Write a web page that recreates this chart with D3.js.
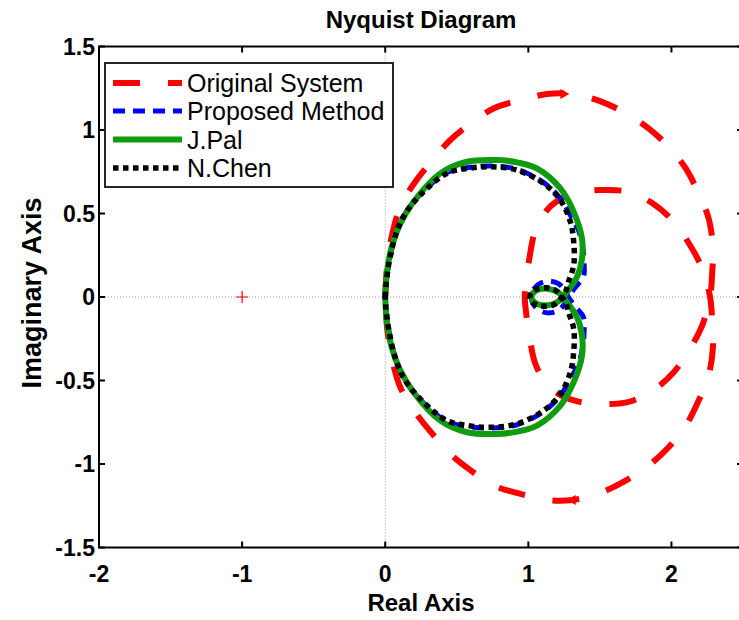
<!DOCTYPE html>
<html>
<head>
<meta charset="utf-8">
<script src="https://cdn.jsdelivr.net/npm/d3@7"></script>
<style>
  html, body { margin: 0; padding: 0; background: #fff; }
  svg { display: block; }
  text { font-family: "Liberation Sans", Arial, Helvetica, sans-serif; fill: #000; }
</style>
</head>
<body>
<svg id="chart" width="739" height="620"></svg>
<script>
// Positive-frequency branch of each Nyquist curve, from DC to high frequency.
// The negative-frequency branch is its complex conjugate.
const origRe = [0.975, 0.984, 1.005, 1.049, 1.12, 1.21, 1.345, 1.5, 1.695, 1.87, 2.016, 2.13, 2.215, 2.27,
                2.285, 2.29, 2.26, 2.19, 2.10, 1.98, 1.84, 1.68, 1.51, 1.31, 1.13, 0.95, 0.76, 0.6, 0.455, 0.33, 0.21, 0.11, 0.05, 0.015, 0];
const origIm = [0, 0.09, 0.22, 0.40, 0.51, 0.58, 0.625, 0.64, 0.63, 0.56, 0.45, 0.31, 0.17, 0,
                -0.15, -0.3, -0.47, -0.62, -0.77, -0.9, -1.01, -1.1, -1.17, -1.215, -1.215, -1.18, -1.13, -1.04, -0.94, -0.82, -0.69, -0.55, -0.38, -0.2, 0];

const propRe = [1.02, 1.04, 1.09, 1.15, 1.21, 1.255, 1.28,
                1.33, 1.385, 1.39, 1.38, 1.35, 1.30, 1.224, 1.107, 0.92, 0.734, 0.58, 0.43, 0.245, 0.14, 0.08, 0.03, 0.005, 0];
const propIm = [0, 0.05, 0.085, 0.095, 0.08, 0.04, 0,
                -0.06, -0.12, -0.2, -0.3, -0.4, -0.48, -0.59, -0.685, -0.765, -0.785, -0.775, -0.745, -0.615, -0.5, -0.39, -0.22, -0.07, 0];

const palRe = [1.02, 1.04, 1.08, 1.13, 1.18, 1.22, 1.245,
               1.265, 1.34, 1.375, 1.375, 1.317, 1.224, 1.06, 0.93, 0.78, 0.571, 0.385, 0.198, 0.1, 0.045, 0.012, 0];
const palIm = [0, 0.03, 0.047, 0.05, 0.04, 0.02, 0,
               -0.025, -0.12, -0.23, -0.35, -0.51, -0.65, -0.77, -0.805, -0.82, -0.81, -0.74, -0.57, -0.43, -0.3, -0.15, 0];

const chenRe = [1.01, 1.03, 1.075, 1.13, 1.18, 1.215, 1.235,
                1.26, 1.28, 1.317, 1.317, 1.294, 1.224, 1.107, 0.92, 0.734, 0.58, 0.43, 0.245, 0.14, 0.08, 0.03, 0.005, 0];
const chenIm = [0, 0.035, 0.052, 0.055, 0.045, 0.022, 0,
                -0.03, -0.09, -0.19, -0.33, -0.45, -0.58, -0.68, -0.76, -0.78, -0.77, -0.74, -0.61, -0.5, -0.39, -0.22, -0.07, 0];

const seriesNames = ["Original System", "Proposed Method", "J.Pal", "N.Chen"];
const xTicks = [-2, -1, 0, 1, 2];
const yTicks = [-1.5, -1, -0.5, 0, 0.5, 1, 1.5];
const criticalPoint = [-1, 0];

// Direction arrows on the original system's curve
const arrowRe = [1.245, 1.31];
const arrowIm = [1.215, -1.215];
const arrowDir = [1, -1];

const svg = d3.select("#chart");
const W = 739, H = 620;
svg.append("rect").attr("width", W).attr("height", H).attr("fill", "#fff");

const L = 99, R = 743, T = 46.5, B = 547.5;
const x = d3.scaleLinear().domain([-2, 2.5]).range([L, R]);
const y = d3.scaleLinear().domain([-1.5, 1.5]).range([B, T]);

svg.append("defs").append("clipPath").attr("id", "plotClip")
  .append("rect").attr("x", L).attr("y", T).attr("width", R - L).attr("height", B - T);

const plot = svg.append("g").attr("clip-path", "url(#plotClip)");

// zero lines
plot.append("line").attr("x1", x(0)).attr("x2", x(0)).attr("y1", T).attr("y2", B)
  .attr("stroke", "#9a9a9a").attr("stroke-width", 1).attr("stroke-dasharray", "1,2");
plot.append("line").attr("x1", L).attr("x2", R).attr("y1", y(0)).attr("y2", y(0))
  .attr("stroke", "#9a9a9a").attr("stroke-width", 1).attr("stroke-dasharray", "1,2");

// critical point marker
const cp = [x(criticalPoint[0]), y(criticalPoint[1])];
plot.append("path")
  .attr("d", `M${cp[0] - 6},${cp[1]}H${cp[0] + 6}M${cp[0]},${cp[1] - 6}V${cp[1] + 6}`)
  .attr("stroke", "#ff0000").attr("stroke-width", 1.2).attr("fill", "none");

// full contour: conjugate branch (reversed) followed by positive branch
function contour(re, im) {
  const pos = re.map((r, i) => [r, im[i]]);
  const neg = pos.map(p => [p[0], -p[1]]).reverse();
  return neg.concat(pos.slice(1));
}

const line = d3.line().x(d => x(d[0])).y(d => y(d[1])).curve(d3.curveCatmullRom.alpha(0.5));

const styles = [
  { color: "#ff0000", width: 6, dash: "27,28", data: contour(origRe, origIm) },
  { color: "#0000ff", width: 5, dash: "12,8", data: contour(propRe, propIm) },
  { color: "#109c10", width: 6, dash: null, data: contour(palRe, palIm) },
  { color: "#000000", width: 5.5, dash: "5.5,4.5", data: contour(chenRe, chenIm) }
];

styles.forEach(s => {
  const p = plot.append("path")
    .attr("d", line(s.data))
    .attr("fill", "none")
    .attr("stroke", s.color)
    .attr("stroke-width", s.width)
    .attr("stroke-linejoin", "round");
  if (s.dash) p.attr("stroke-dasharray", s.dash);
});

// arrows
arrowRe.forEach((r, i) => {
  const ax = x(r), ay = y(arrowIm[i]), d = arrowDir[i];
  plot.append("path")
    .attr("d", `M${ax + d * 6},${ay}L${ax - d * 3},${ay - 5}L${ax - d * 3},${ay + 5}Z`)
    .attr("fill", "#ff0000");
});

// axes box and ticks
const ax = svg.append("g").attr("stroke", "#000").attr("stroke-width", 2).attr("fill", "none");
ax.append("rect").attr("x", L).attr("y", T).attr("width", R - L).attr("height", B - T);
const tl = 6;
xTicks.forEach(t => {
  ax.append("line").attr("x1", x(t)).attr("x2", x(t)).attr("y1", B).attr("y2", B - tl);
  ax.append("line").attr("x1", x(t)).attr("x2", x(t)).attr("y1", T).attr("y2", T + tl);
});
yTicks.forEach(t => {
  ax.append("line").attr("x1", L).attr("x2", L + tl).attr("y1", y(t)).attr("y2", y(t));
  ax.append("line").attr("x1", R).attr("x2", R - tl).attr("y1", y(t)).attr("y2", y(t));
});

// tick labels
const tickFont = 23;
svg.append("g").selectAll("text").data(xTicks).join("text")
  .attr("x", d => x(d)).attr("y", B + 34)
  .attr("text-anchor", "middle").attr("font-size", tickFont).attr("font-weight", "bold")
  .text(d => String(d));
svg.append("g").selectAll("text").data(yTicks).join("text")
  .attr("x", L - 4).attr("y", d => y(d) + 8)
  .attr("text-anchor", "end").attr("font-size", tickFont).attr("font-weight", "bold")
  .text(d => String(d));

// axis labels and title
svg.append("text").attr("x", (L + R) / 2).attr("y", 611)
  .attr("text-anchor", "middle").attr("font-size", 24).attr("font-weight", "bold").text("Real Axis");
svg.append("text").attr("transform", `translate(41,${(T + B) / 2 - 4}) rotate(-90)`)
  .attr("text-anchor", "middle").attr("font-size", 27).attr("font-weight", "bold").text("Imaginary Axis");
svg.append("text").attr("x", (L + R) / 2).attr("y", 28)
  .attr("text-anchor", "middle").attr("font-size", 24).attr("font-weight", "bold").text("Nyquist Diagram");

// legend
const lg = svg.append("g");
lg.append("rect").attr("x", 105).attr("y", 63).attr("width", 288).attr("height", 124)
  .attr("fill", "#fff").attr("stroke", "#262626").attr("stroke-width", 2);
const rowY = [83, 111, 139.5, 168];
styles.forEach((s, i) => {
  const l = lg.append("line").attr("x1", 113).attr("x2", 182).attr("y1", rowY[i]).attr("y2", rowY[i])
    .attr("stroke", s.color).attr("stroke-width", s.width);
  if (s.dash) l.attr("stroke-dasharray", s.dash);
  lg.append("text").attr("x", 187).attr("y", rowY[i] + 9)
    .attr("font-size", 25).text(seriesNames[i]);
});
</script>
</body>
</html>
